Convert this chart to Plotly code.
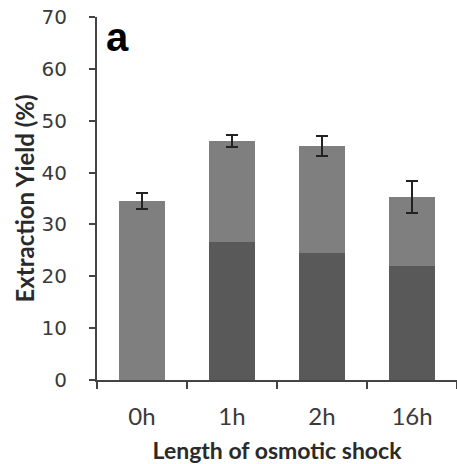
import plotly.graph_objects as go

categories = ["0h", "1h", "2h", "16h"]
totals = [34.5, 46.1, 45.1, 35.3]
dark_part = [0, 26.6, 24.5, 22.0]
errors = [1.6, 1.2, 1.9, 3.1]
y_ticks = [0, 10, 20, 30, 40, 50, 60, 70]

light_part = [t - d for t, d in zip(totals, dark_part)]

fig = go.Figure()
fig.add_trace(go.Bar(
    x=categories, y=dark_part, marker=dict(color="#595959", line=dict(width=0)),
    width=0.51, showlegend=False,
))
fig.add_trace(go.Bar(
    x=categories, y=light_part, marker=dict(color="#7f7f7f", line=dict(width=0)),
    width=0.51, showlegend=False,
    error_y=dict(type="data", array=errors, visible=True, color="#222222", thickness=2, width=6),
))

fig.update_layout(
    barmode="stack",
    width=457, height=464,
    margin=dict(l=97, r=0, t=17, b=84),
    plot_bgcolor="white", paper_bgcolor="white",
    xaxis=dict(
        range=[-0.5, 3.5], showline=True, linecolor="#444444", linewidth=2,
        ticks="outside", tickson="boundaries", ticklen=7, tickwidth=2, tickcolor="#444444",
        tickfont=dict(family="Lato", size=24, color="#3a3a3a"),
        ticklabelstandoff=14, automargin=False, ticklabeloverflow="allow",
        title=dict(text="<b>Length of osmotic shock</b>", font=dict(family="Lato", size=23, color="#2a2a2a"), standoff=14),
        showgrid=False, zeroline=False,
    ),
    yaxis=dict(
        range=[0, 70], tickvals=y_ticks, showline=True, linecolor="#444444", linewidth=2,
        ticks="outside", ticklen=6, tickwidth=2, tickcolor="#444444",
        tickfont=dict(family="DejaVu Sans", size=20, color="#3a3a3a"),
        ticklabelstandoff=18, automargin=False, ticklabeloverflow="allow",
        title=dict(text="<b>Extraction Yield (%)</b>", font=dict(family="Lato", size=24, color="#2a2a2a"), standoff=0),
        showgrid=False, zeroline=False,
    ),
    annotations=[dict(
        text="<b>a</b>", xref="paper", yref="paper", x=0.058, y=0.945,
        showarrow=False, font=dict(family="Liberation Sans", size=40, color="black"),
        xanchor="center", yanchor="middle",
    )],
)

fig.write_html("out.html", config={"displayModeBar": False},
               post_script="document.body.style.margin='0px';")
